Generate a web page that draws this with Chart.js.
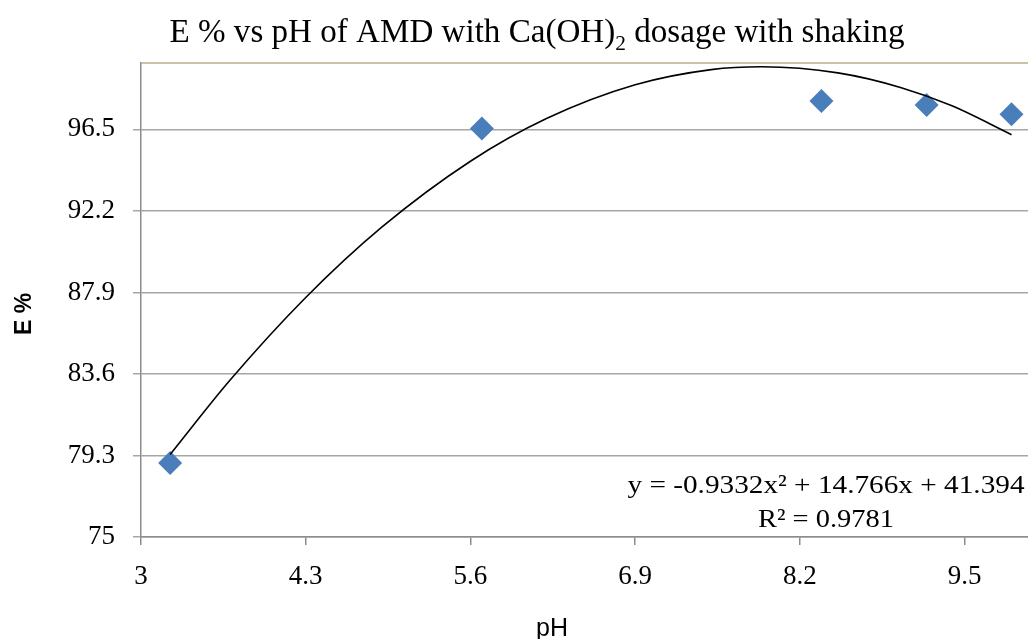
<!DOCTYPE html>
<html>
<head>
<meta charset="utf-8">
<script src="https://cdn.jsdelivr.net/npm/chart.js@4"></script>
<style>
  html, body { margin: 0; padding: 0; background: #fff; }
  #chart { display: block; }
</style>
</head>
<body>
<canvas id="chart" width="1028" height="639"></canvas>
<script>
// measured points (pH, E %)
const phValues = [3.23, 5.69, 8.37, 9.20, 9.87];
const eValues = [78.9, 96.55, 98.0, 97.78, 97.3];

// polynomial trendline
const trendPh = [3.23, 3.7, 4.3, 4.9, 5.6, 6.2, 6.9, 7.5, 7.9, 8.5, 9.0, 9.4, 9.87];
const trendE = [79.35, 83.25, 87.63, 91.34, 94.82, 97.07, 98.85, 99.65, 99.8, 99.48, 98.7, 97.74, 96.22];

const xTicks = [3, 4.3, 5.6, 6.9, 8.2, 9.5];
const yTicks = [75, 79.3, 83.6, 87.9, 92.2, 96.5];

const equationText = 'y = -0.9332x² + 14.766x + 41.394';
const r2Text = 'R² = 0.9781';

const serif = '"Liberation Serif", "Times New Roman", serif';
const sans = '"Liberation Sans", Arial, sans-serif';

// draws text centred at cx, squeezed/stretched to a given width
function fitText(ctx, parts, cx, baseline, width) {
  let total = 0;
  parts.forEach(([t, s]) => { ctx.font = `${s}px ${serif}`; total += ctx.measureText(t).width; });
  const k = width / total;
  ctx.save();
  ctx.translate(cx - width / 2, baseline);
  ctx.scale(k, 1);
  let x = 0;
  parts.forEach(([t, s, dy]) => {
    ctx.font = `${s}px ${serif}`;
    ctx.fillText(t, x, dy);
    x += ctx.measureText(t).width;
  });
  ctx.restore();
}

const extras = {
  id: 'extras',
  beforeDatasetsDraw(chart) {
    const { ctx, chartArea } = chart;
    ctx.save();
    ctx.strokeStyle = '#b9b08a';
    ctx.lineWidth = 1.5;
    ctx.beginPath();
    ctx.moveTo(chartArea.left, chartArea.top);
    ctx.lineTo(chartArea.right, chartArea.top);
    ctx.stroke();
    ctx.restore();
  },
  afterDraw(chart) {
    const { ctx } = chart;
    ctx.save();
    ctx.fillStyle = '#000';
    ctx.textBaseline = 'alphabetic';
    ctx.textAlign = 'left';

    // title with subscript
    fitText(ctx, [['E % vs pH of AMD with Ca(OH)', 34, 0], ['2', 22, 8], [' dosage with shaking', 34, 0]], 537, 42, 735);

    // trendline label
    fitText(ctx, [[equationText, 26, 0]], 826, 493, 397);
    fitText(ctx, [[r2Text, 26, 0]], 826, 527, 136);

    // axis titles
    ctx.textAlign = 'center';
    ctx.font = `25px ${sans}`;
    ctx.fillText('pH', 552, 636);
    ctx.translate(31, 314);
    ctx.rotate(-Math.PI / 2);
    ctx.font = `bold 23px ${sans}`;
    ctx.fillText('E %', 0, 0);
    ctx.restore();
  }
};

new Chart(document.getElementById('chart'), {
  type: 'scatter',
  data: {
    datasets: [
      {
        label: 'Trendline',
        data: trendPh.map((x, i) => ({ x, y: trendE[i] })),
        showLine: true,
        borderColor: '#000',
        borderWidth: 1.6,
        pointRadius: 0,
        cubicInterpolationMode: 'monotone',
        fill: false
      },
      {
        label: 'E %',
        data: phValues.map((x, i) => ({ x, y: eValues[i] })),
        pointStyle: 'rectRot',
        pointRadius: 12,
        pointHoverRadius: 12,
        backgroundColor: '#4a7ebb',
        borderColor: '#4a7ebb',
        borderWidth: 0
      }
    ]
  },
  options: {
    responsive: false,
    animation: false,
    events: [],
    layout: { autoPadding: false, padding: { top: 63, right: 0, left: 0, bottom: 0 } },
    plugins: { legend: { display: false }, tooltip: { enabled: false } },
    scales: {
      x: {
        type: 'linear',
        min: 3,
        max: 10,
        afterBuildTicks: (s) => { s.ticks = xTicks.map(v => ({ value: v })); },
        afterFit: (s) => { s.height = 102; s.paddingLeft = 0; s.paddingRight = 0; },
        border: { color: '#8c8c8c', width: 1.5 },
        grid: { drawOnChartArea: false, drawTicks: true, tickLength: 8, color: '#8c8c8c', lineWidth: 1.5 },
        ticks: { color: '#000', font: { family: serif, size: 27 }, padding: 16, maxRotation: 0, autoSkip: false }
      },
      y: {
        type: 'linear',
        min: 75,
        max: 100,
        afterBuildTicks: (s) => { s.ticks = yTicks.map(v => ({ value: v })); },
        afterFit: (s) => { s.width = 141; s.paddingTop = 0; s.paddingBottom = 0; },
        border: { color: '#8c8c8c', width: 1.5 },
        grid: { color: '#a6a6a6', lineWidth: 1.5, tickLength: 8 },
        ticks: { color: '#000', font: { family: serif, size: 27 }, padding: 18, autoSkip: false,
          callback: (v) => String(v) }
      }
    }
  },
  plugins: [extras]
});
</script>
</body>
</html>
